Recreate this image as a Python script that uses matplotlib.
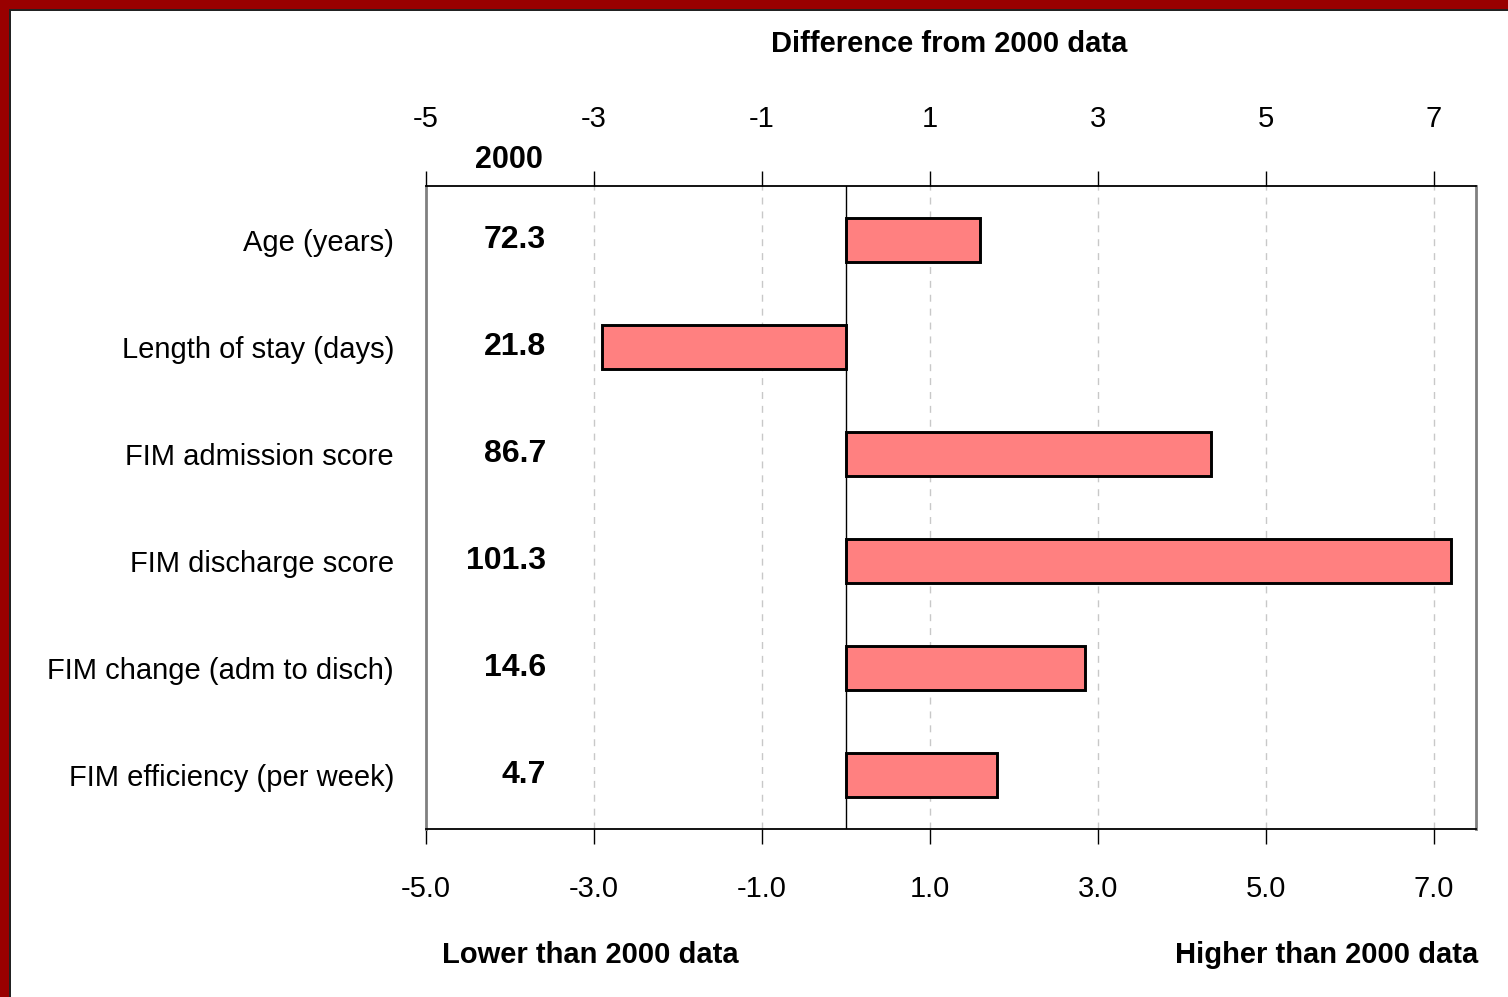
import matplotlib.pyplot as plt
from matplotlib.patches import Rectangle
from matplotlib.transforms import blended_transform_factory

categories = [
    "Age (years)", "Length of stay (days)", "FIM admission score",
    "FIM discharge score", "FIM change (adm to disch)", "FIM efficiency (per week)"
]
values_2000 = ["72.3", "21.8", "86.7", "101.3", "14.6", "4.7"]
difference = [1.6, -2.9, 4.35, 7.2, 2.85, 1.8]
ticks = [-5, -3, -1, 1, 3, 5, 7]

font = ['Liberation Sans Narrow', 'Liberation Sans', 'DejaVu Sans']
plt.rcParams['font.family'] = font

fig = plt.figure(figsize=(15.08, 9.97), dpi=100)
ax = fig.add_axes([426 / 1508, 1 - 829 / 997, 1050 / 1508, 643 / 997])

# red frame on top and left
fig.patches.append(Rectangle((0, 1 - 9 / 997), 1, 9 / 997, transform=fig.transFigure,
                             facecolor="#990000", edgecolor="none"))
fig.patches.append(Rectangle((0, 0), 9 / 1508, 1, transform=fig.transFigure,
                             facecolor="#990000", edgecolor="none"))
fig.patches.append(Rectangle((9 / 1508, 0), 2 / 1508, 1 - 9 / 997, transform=fig.transFigure,
                             facecolor="#222222", edgecolor="none"))
fig.patches.append(Rectangle((9 / 1508, 1 - 11 / 997), 1, 2 / 997, transform=fig.transFigure,
                             facecolor="#222222", edgecolor="none"))

ypos = list(range(len(categories)))
ax.barh(ypos, difference, height=0.41, color="#FF8080", edgecolor="black",
        linewidth=2.1, zorder=3)
ax.axvline(0, color="black", linewidth=1, zorder=2)

ax.set_xlim(-5, 7.5)
ax.set_ylim(len(categories) - 0.5, -0.5)
ax.set_xticks(ticks)
ax.set_xticklabels([f"{t:.1f}" for t in ticks], fontsize=21)
ax.tick_params(axis="x", direction="out", length=11, width=1, pad=22)
ax.set_yticks(ypos)
ax.set_yticklabels(categories, fontsize=21)
ax.tick_params(axis="y", length=0, pad=23)

for t in ticks[1:]:
    ax.axvline(t, color="#c8c8c8", linewidth=1, linestyle=(0, (5, 5)), zorder=1)

ax.spines["left"].set_color("#808080")
ax.spines["left"].set_linewidth(2)
ax.spines["right"].set_color("#808080")
ax.spines["right"].set_linewidth(2)
ax.spines["top"].set_linewidth(1.3)
ax.spines["bottom"].set_linewidth(1.3)

top = ax.twiny()
top.set_xlim(ax.get_xlim())
top.set_xticks(ticks)
top.set_xticklabels([str(t) for t in ticks], fontsize=21)
top.tick_params(axis="x", direction="out", length=11, width=1, pad=27)
for s in top.spines.values():
    s.set_visible(False)

trans = blended_transform_factory(ax.transAxes, ax.transData)
for y, v in zip(ypos, values_2000):
    ax.text(120 / 1050, y, v, transform=trans, ha="right", va="center",
            fontsize=23, fontweight="bold")
ax.text(117 / 1050, 1 + 26 / 643, "2000", transform=ax.transAxes, ha="right",
        va="center", fontsize=22, fontweight="bold")

fig.text(949 / 1508, 1 - 44 / 997, "Difference from 2000 data", ha="center",
         va="center", fontsize=21, fontweight="bold")
fig.text(590 / 1508, 1 - 955 / 997, "Lower than 2000 data", ha="center",
         va="center", fontsize=21, fontweight="bold")
fig.text(1478 / 1508, 1 - 955 / 997, "Higher than 2000 data", ha="right",
         va="center", fontsize=21, fontweight="bold")

fig.savefig("out.png", dpi=100)
